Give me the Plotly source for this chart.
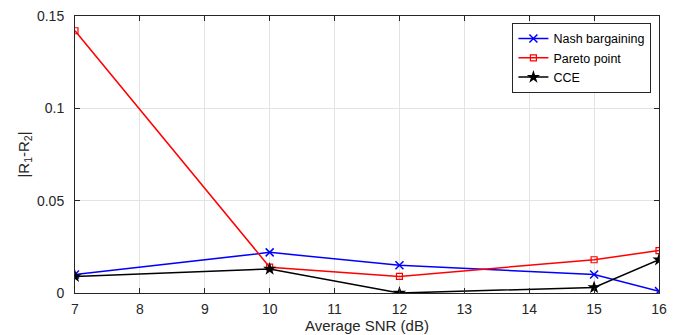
import plotly.graph_objects as go

snr = [7, 10, 12, 15, 16]
nash = [0.010, 0.022, 0.015, 0.010, 0.001]
pareto = [0.142, 0.014, 0.009, 0.018, 0.023]
cce = [0.009, 0.013, 0.000, 0.003, 0.018]

font = "Liberation Sans, Arial, Helvetica, sans-serif"

fig = go.Figure()
fig.add_trace(go.Scatter(x=snr, y=nash, name="Nash bargaining", mode="lines+markers",
                         line=dict(color="#0000ff", width=1.5),
                         marker=dict(symbol="x-thin-open", size=8, color="#0000ff",
                                     line=dict(width=1.5, color="#0000ff"))))
fig.add_trace(go.Scatter(x=snr, y=pareto, name="Pareto point", mode="lines+markers",
                         line=dict(color="#ff0000", width=1.5),
                         marker=dict(symbol="square-open", size=6, color="#ff0000",
                                     line=dict(width=1.2, color="#ff0000"))))
fig.add_trace(go.Scatter(x=snr, y=cce, name="CCE", mode="lines+markers",
                         line=dict(color="#000000", width=1.5),
                         marker=dict(symbol="star", size=10, color="#000000")))

axis_common = dict(showline=True, linecolor="#262626", linewidth=1, mirror="ticks",
                   ticks="inside", ticklen=5, tickcolor="#262626", automargin=False,
                   showgrid=True, gridcolor="#e3e3e3", gridwidth=1, zeroline=False,
                   tickfont=dict(family=font, size=14, color="#262626"))

fig.update_layout(
    width=681, height=335,
    margin=dict(l=75, r=22, t=16, b=42, autoexpand=False),
    paper_bgcolor="white", plot_bgcolor="white",
    font=dict(family=font, color="#262626"),
    xaxis=dict(range=[7, 16], dtick=1, tick0=7, ticklabelstandoff=3,
               title=dict(text="Average SNR (dB)", font=dict(family=font, size=15), standoff=0),
               **axis_common),
    yaxis=dict(range=[0, 0.15], tickvals=[0, 0.05, 0.1, 0.15], ticktext=["0", "0.05", "0.1", "0.15"],
               ticklabelstandoff=7,
               title=dict(text="|R<sub>1</sub>-R<sub>2</sub>|", font=dict(family=font, size=15), standoff=3),
               **axis_common),
    legend=dict(x=0.987, y=0.975, xanchor="right", yanchor="top",
                bgcolor="white", bordercolor="#262626", borderwidth=1,
                font=dict(family=font, size=12.5, color="#000000"),
                tracegroupgap=0, itemwidth=30),
    showlegend=True,
)

fig.write_html("out.html", config={"displayModeBar": False},
               post_script="document.body.style.margin='0';")
